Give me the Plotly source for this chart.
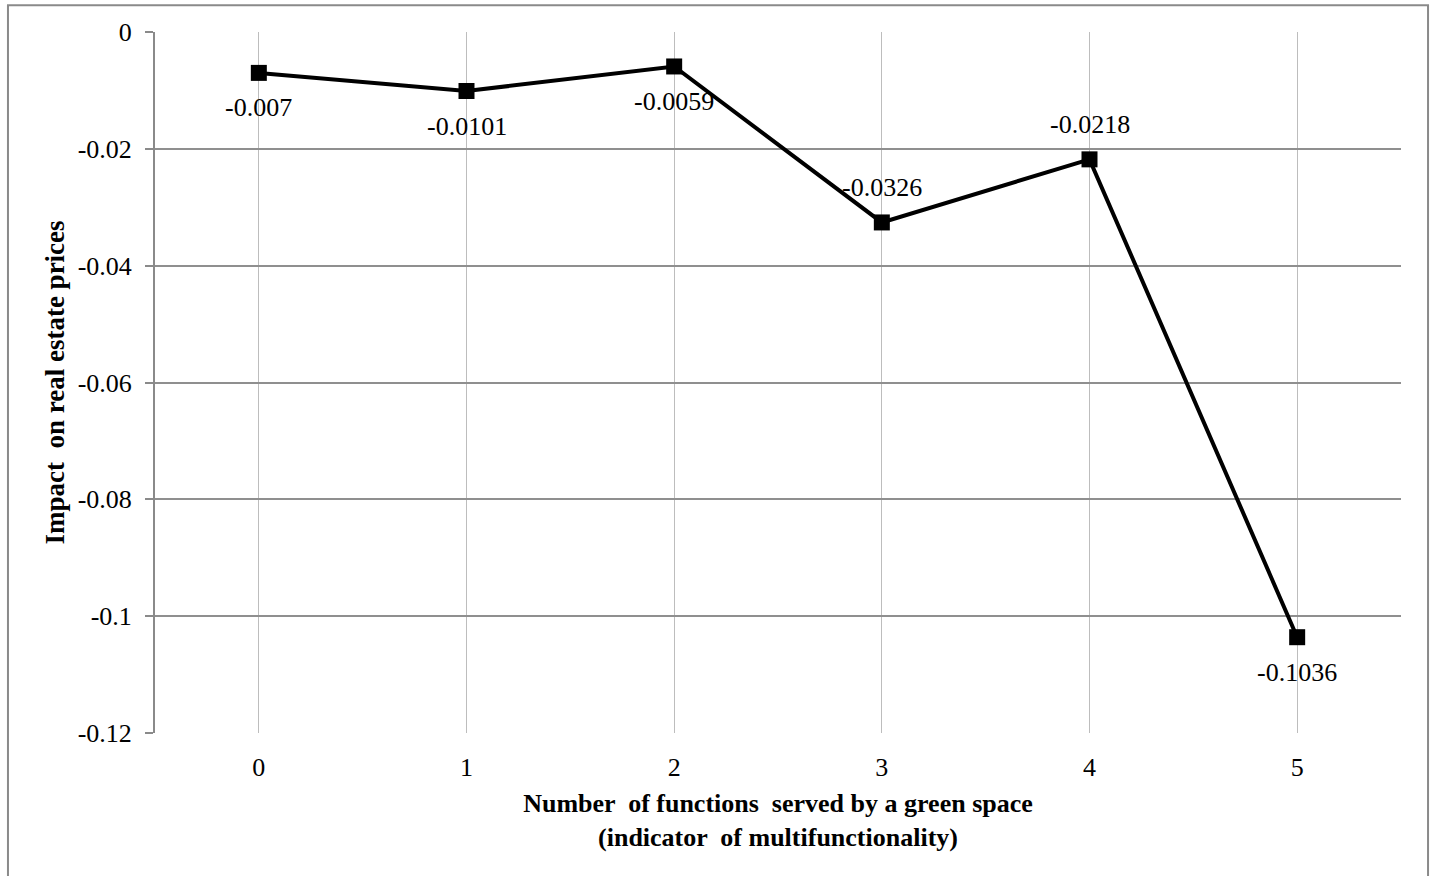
import plotly.graph_objects as go

categories = [0, 1, 2, 3, 4, 5]
impact = [-0.007, -0.0101, -0.0059, -0.0326, -0.0218, -0.1036]
labels = ["-0.007", "-0.0101", "-0.0059", "-0.0326", "-0.0218", "-0.1036"]
label_side = [-1, -1, -1, 1, 1, -1]   # -1 below the point, 1 above
y_ticks = [0, -0.02, -0.04, -0.06, -0.08, -0.1, -0.12]
y_tick_text = ["0", "-0.02", "-0.04", "-0.06", "-0.08", "-0.1", "-0.12"]

FONT = "Liberation Serif, Times New Roman, serif"

fig = go.Figure()
fig.add_trace(go.Scatter(
    x=categories, y=impact, mode="lines+markers",
    line=dict(color="black", width=4),
    marker=dict(symbol="square", size=16, color="black"),
    cliponaxis=False, showlegend=False,
))

annotations = []
for c, v, t, s in zip(categories, impact, labels, label_side):
    annotations.append(dict(
        x=c, y=v, xref="x", yref="y", text=t, showarrow=False,
        yshift=35 * s, font=dict(family=FONT, size=26, color="black"),
    ))

fig.update_layout(
    width=1430, height=876,
    margin=dict(l=155, r=29, t=32, b=143),
    paper_bgcolor="white", plot_bgcolor="white",
    font=dict(family=FONT, size=26, color="black"),
    annotations=annotations,
    xaxis=dict(
        range=[-0.5, 5.5], tickvals=categories,
        ticktext=[str(c) for c in categories],
        showgrid=True, gridcolor="#bdbdbd", gridwidth=1.3,
        zeroline=False, showline=False, ticks="",
        ticklabelstandoff=16,
        tickfont=dict(family=FONT, size=26),
        title=dict(text="<b>Number  of functions  served by a green space<br>(indicator  of multifunctionality)</b>",
                   font=dict(family=FONT, size=26), standoff=12),
    ),
    yaxis=dict(
        range=[-0.12, 0], tickvals=y_ticks, ticktext=y_tick_text,
        showgrid=True, gridcolor="#8f8f8f", gridwidth=1.5,
        zeroline=False, showline=True, linecolor="#8a8a8a", linewidth=2,
        ticks="outside", ticklen=8, tickcolor="#8a8a8a", tickwidth=2,
        ticklabelstandoff=8,
        tickfont=dict(family=FONT, size=26),
        title=dict(text="<b>Impact  on real estate prices</b>",
                   font=dict(family=FONT, size=27), standoff=5),
    ),
    shapes=[dict(type="rect", xref="paper", yref="paper",
                 x0=-0.118, x1=1.0217, y0=-0.21, y1=1.038,
                 line=dict(color="#8a8a8a", width=2), layer="below")],
)

fig.write_html("out.html", config={"displayModeBar": False},
               post_script="document.body.style.margin='0px';")
